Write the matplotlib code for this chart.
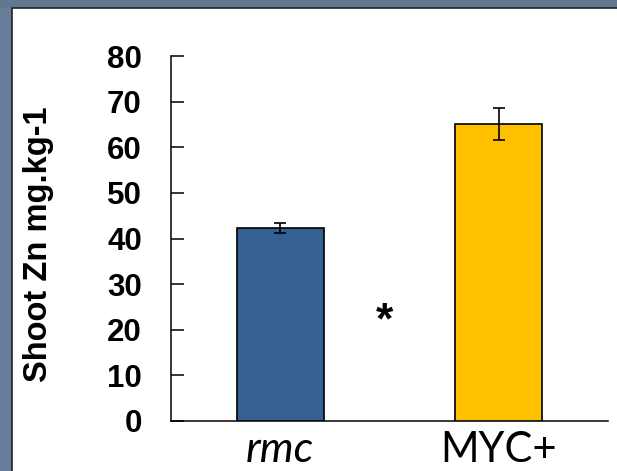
import numpy as np
import matplotlib
matplotlib.use("Agg")
import matplotlib.pyplot as plt
from matplotlib.patches import Rectangle
from matplotlib.lines import Line2D

# Shoot zinc concentration by plant line
categories = ["rmc", "MYC+"]
means = [42.3, 65.1]
errors = [1.1, 3.5]
bar_colors = ["#376092", "#FFC000"]
y_ticks = [0, 10, 20, 30, 40, 50, 60, 70, 80]
y_label = "Shoot Zn mg.kg-1"
marker_text = "*"

W, H = 617, 471
fig = plt.figure(figsize=(W / 100, H / 100), dpi=100, facecolor="white")

# slide background: only the top band and the left band are visible
slate_top = "#617790"
slate_left = "#667c98"
px0, py0 = 12 / W, 1 - 8 / H
fig.patches.append(Rectangle((0, py0), 1.0, 1 - py0, transform=fig.transFigure,
                             facecolor=slate_top, edgecolor="none", zorder=-10))
fig.patches.append(Rectangle((0, 0), px0, py0, transform=fig.transFigure,
                             facecolor=slate_left, edgecolor="none", zorder=-10))
# frame of the white content panel on its left and top edges
fig.lines.append(Line2D([px0, px0, 1.0], [0, py0, py0], transform=fig.transFigure,
                        color="#222222", linewidth=1.2, zorder=-9))

ax = fig.add_axes([171 / W, 50 / H, 437 / W, 365 / H])
ax.set_facecolor("none")
x = np.arange(len(categories))
ax.bar(x, means, width=0.4, color=bar_colors, edgecolor="black", linewidth=1.2, zorder=3)
ax.errorbar(x, means, yerr=errors, fmt="none", ecolor="black", elinewidth=1.2,
            capsize=4, capthick=1.2, zorder=4)

ax.set_xlim(-0.5, 1.5)
ax.set_ylim(0, 80)
ax.set_yticks(y_ticks)
ax.set_yticklabels([str(t) for t in y_ticks], fontfamily="Liberation Sans",
                   fontweight="bold", fontsize=22.5)
ax.tick_params(axis="y", direction="in", length=9, width=1.1, pad=21)
ax.set_xticks(x)
ax.set_xticklabels(categories, fontfamily="Lato", fontsize=30)
ax.get_xticklabels()[0].set_fontstyle("italic")
ax.get_xticklabels()[0].set_fontsize(31)
ax.tick_params(axis="x", length=0, pad=7)
for s in ["top", "right"]:
    ax.spines[s].set_visible(False)
for s in ["left", "bottom"]:
    ax.spines[s].set_linewidth(1.1)
    ax.spines[s].set_color("black")

ax.text(0.476, 19.3, marker_text, ha="center", va="baseline", fontsize=32,
        fontfamily="Liberation Sans", fontweight="bold", color="black")

fig.text(39 / W, 1 - 244 / H, y_label, rotation=90, ha="center", va="center",
         fontfamily="Liberation Sans", fontweight="bold", fontsize=23.5)

fig.savefig("out.png", dpi=100, facecolor="white")
